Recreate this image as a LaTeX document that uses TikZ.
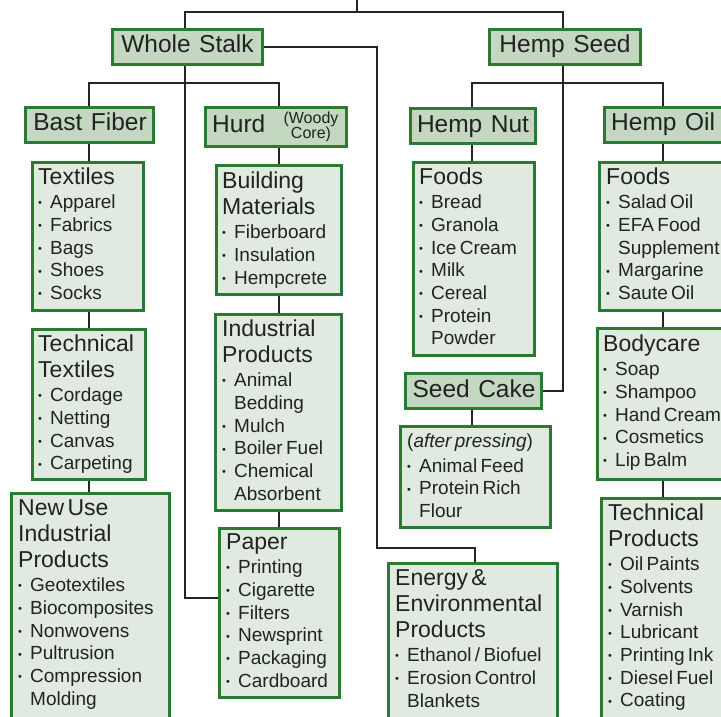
\documentclass[tikz,border=0pt]{standalone}
\usepackage{fontspec}
\setmainfont[WordSpace=1.25]{Liberation Sans}
\definecolor{linec}{HTML}{242424}
\definecolor{boxgreen}{HTML}{2A7A34}
\definecolor{titlefill}{HTML}{C4D7C1}
\definecolor{contfill}{HTML}{E1EAE0}
\definecolor{txtc}{HTML}{222222}
\newcommand\tfont{\fontsize{24.5}{28}\selectfont}
\newcommand\hfont{\fontsize{23}{26}\selectfont}
\newcommand\ifont{\fontsize{19}{22.7}\selectfont}
\newcommand\bul{\raisebox{1.8pt}{\fontsize{11}{11}\selectfont •}}
\newcommand\hdr[1]{{\hfont\noindent\rule{0pt}{20pt}#1\par}\vskip 1.8pt\relax}
\newcommand\bitem[1]{\hangindent 12pt\relax\hangafter 1\relax\noindent\hbox to 12pt{\bul\hfil}#1\par}
\newcommand\mkbox[6]{\node[#1, minimum width={#5-#3-2.6}, minimum height={#6-#4-2.6}] (#2) at ({(#3+#5)/2},{(#4+#6)/2}) {};}
\newcommand\ctxt[4]{\node[ctext] (#1) at (#2,{#3-20}) {\ifont\parindent 0pt\relax\parskip 0pt\relax #4};}
\tikzset{
  conn/.style={draw=linec, line width=2.6pt},
  tbox/.style={draw=boxgreen, fill=titlefill, line width=2.6pt, inner sep=0pt, outer sep=0pt},
  cbox/.style={draw=boxgreen, fill=contfill, line width=2.6pt, inner sep=0pt, outer sep=0pt},
  ttext/.style={anchor=base, inner sep=0pt, text=txtc, font=\tfont},
  ctext/.style={anchor=north west, inner sep=0pt, text=txtc, text width=260pt},
}
\begin{document}
\begin{tikzpicture}[x=1pt,y=-1pt]
\clip (0,0) rectangle (721,717);
\fill[white] (0,0) rectangle (721,717);
% column coordinates
\coordinate (c1) at (89,0);
\coordinate (c2) at (279,0);
\coordinate (c3) at (472,0);
\coordinate (c4) at (663,0);
\coordinate (topc) at (357,-5);
\coordinate (topj) at (357,12);
\coordinate (L) at (185,12);
\coordinate (R) at (563,12);
\coordinate (wj) at (185,83);
\coordinate (hj) at (563,83);
\coordinate (pj) at (185,598);
\coordinate (e1) at (377,47);
\coordinate (e2) at (377,548);
\coordinate (e3) at (475,548);
% box outlines used for anchors (invisible)
\begin{scope}[tbox/.append style={draw=none,fill=none}, cbox/.append style={draw=none,fill=none}]
\mkbox{tbox}{ws}{111}{28}{264}{66}
\mkbox{tbox}{hs}{488}{28}{642}{66}
\mkbox{tbox}{bf}{24}{106}{155}{144}
\mkbox{tbox}{hd}{204}{106}{348}{148}
\mkbox{tbox}{hn}{409}{107}{537}{145}
\mkbox{tbox}{ho}{603}{106}{745}{144}
\mkbox{tbox}{sc}{404}{372}{543}{410}
\mkbox{cbox}{tx}{31}{161}{145}{312}
\mkbox{cbox}{tt}{31}{328}{147}{481}
\mkbox{cbox}{nu}{10}{492}{171}{745}
\mkbox{cbox}{bm}{215}{164}{343}{296}
\mkbox{cbox}{ip}{214}{313}{343}{512}
\mkbox{cbox}{pp}{218}{527}{341}{699}
\mkbox{cbox}{nf}{412}{161}{536}{357}
\mkbox{cbox}{ap}{399}{425}{552}{529}
\mkbox{cbox}{en}{387}{562}{559}{745}
\mkbox{cbox}{of}{598}{161}{745}{312}
\mkbox{cbox}{bc}{596}{327}{745}{481}
\mkbox{cbox}{tp}{600}{497}{745}{745}
\end{scope}
% connectors
\path[conn] (topc) -- (topj);
\path[conn] (L |- ws.north) -- (L) -- (R) -- (R |- hs.north);
\path[conn] (c1 |- bf.north) |- (wj) -| (c2 |- hd.north);
\path[conn] (L |- ws.south) -- (pj) -- (pj -| pp.west);
\path[conn] (ws.east) -- (e1) -- (e2) -- (e3) -- (e3 |- en.north);
\path[conn] (c3 |- hn.north) |- (hj) -| (c4 |- ho.north);
\path[conn] (R |- hs.south) -- (R |- sc.east) -- (sc.east);
\path[conn] (c1 |- bf.south) -- (c1 |- tx.north);
\path[conn] (c1 |- tx.south) -- (c1 |- tt.north);
\path[conn] (c1 |- tt.south) -- (c1 |- nu.north);
\path[conn] (c2 |- hd.south) -- (c2 |- bm.north);
\path[conn] (c2 |- bm.south) -- (c2 |- ip.north);
\path[conn] (c2 |- ip.south) -- (c2 |- pp.north);
\path[conn] (c3 |- hn.south) -- (c3 |- nf.north);
\path[conn] (c3 |- sc.south) -- (c3 |- ap.north);
\path[conn] (c4 |- ho.south) -- (c4 |- of.north);
\path[conn] (c4 |- of.south) -- (c4 |- bc.north);
\path[conn] (c4 |- bc.south) -- (c4 |- tp.north);
% visible boxes on top of connectors
\mkbox{tbox}{ws}{111}{28}{264}{66}
\mkbox{tbox}{hs}{488}{28}{642}{66}
\mkbox{tbox}{bf}{24}{106}{155}{144}
\mkbox{tbox}{hd}{204}{106}{348}{148}
\mkbox{tbox}{hn}{409}{107}{537}{145}
\mkbox{tbox}{ho}{603}{106}{745}{144}
\mkbox{tbox}{sc}{404}{372}{543}{410}
\mkbox{cbox}{tx}{31}{161}{145}{312}
\mkbox{cbox}{tt}{31}{328}{147}{481}
\mkbox{cbox}{nu}{10}{492}{171}{745}
\mkbox{cbox}{bm}{215}{164}{343}{296}
\mkbox{cbox}{ip}{214}{313}{343}{512}
\mkbox{cbox}{pp}{218}{527}{341}{699}
\mkbox{cbox}{nf}{412}{161}{536}{357}
\mkbox{cbox}{ap}{399}{425}{552}{529}
\mkbox{cbox}{en}{387}{562}{559}{745}
\mkbox{cbox}{of}{598}{161}{745}{312}
\mkbox{cbox}{bc}{596}{327}{745}{481}
\mkbox{cbox}{tp}{600}{497}{745}{745}
% title texts
\node[ttext] (wst) at (187.5,53) {Whole Stalk};
\node[ttext] (hst) at (565,53) {Hemp Seed};
\node[ttext] (bft) at (90,131) {Bast Fiber};
\node[ttext, anchor=base west] (hdt) at (212,132) {Hurd};
\node[ttext, font=\fontsize{16}{16}\selectfont] (hdc1) at (311,124) {(Woody};
\node[ttext, font=\fontsize{16}{16}\selectfont] (hdc2) at (311,138.5) {Core)};
\node[ttext] (hnt) at (473,132) {Hemp Nut};
\node[ttext, anchor=base west] (hot) at (611,131) {Hemp Oil};
\node[ttext] (sct) at (474,397) {Seed Cake};
% content texts
\ctxt{txt}{38}{184}{\hdr{Textiles}\bitem{Apparel}\bitem{Fabrics}\bitem{Bags}\bitem{Shoes}\bitem{Socks}}
\ctxt{ttt}{38}{351}{\hdr{Technical\newline Textiles}\bitem{Cordage}\bitem{Netting}\bitem{Canvas}\bitem{Carpeting}}
\ctxt{nut}{18}{515}{\hdr{New Use\newline Industrial\newline Products}\bitem{Geotextiles}\bitem{Biocomposites}\bitem{Nonwovens}\bitem{Pultrusion}\bitem{Compression\newline Molding}}
\ctxt{bmt}{222}{188}{\hdr{Building\newline Materials}\bitem{Fiberboard}\bitem{Insulation}\bitem{Hempcrete}}
\ctxt{ipt}{222}{336}{\hdr{Industrial\newline Products}\bitem{Animal\newline Bedding}\bitem{Mulch}\bitem{Boiler Fuel}\bitem{Chemical\newline Absorbent}}
\ctxt{ppt}{226}{549}{\hdr{Paper}\bitem{Printing}\bitem{Cigarette}\bitem{Filters}\bitem{Newsprint}\bitem{Packaging}\bitem{Cardboard}}
\ctxt{nft}{419}{184}{\hdr{Foods}\bitem{Bread}\bitem{Granola}\bitem{Ice Cream}\bitem{Milk}\bitem{Cereal}\bitem{Protein\newline Powder}}
\ctxt{apt}{407}{447}{{\noindent\rule{0pt}{20pt}(\textit{after pressing})\par}\vskip 2.3pt\relax\bitem{Animal Feed}\bitem{Protein Rich\newline Flour}}
\ctxt{ent}{395}{585}{\hdr{Energy \&\newline Environmental\newline Products}\bitem{Ethanol / Biofuel}\bitem{Erosion Control\newline Blankets}}
\ctxt{oft}{606}{184}{\hdr{Foods}\bitem{Salad Oil}\bitem{EFA Food\newline Supplement}\bitem{Margarine}\bitem{Saute Oil}}
\ctxt{bct}{603}{351}{\hdr{Bodycare}\bitem{Soap}\bitem{Shampoo}\bitem{Hand Cream}\bitem{Cosmetics}\bitem{Lip Balm}}
\ctxt{tpt}{608}{520}{\hdr{Technical\newline Products}\bitem{Oil Paints}\bitem{Solvents}\bitem{Varnish}\bitem{Lubricant}\bitem{Printing Ink}\bitem{Diesel Fuel}\bitem{Coating}}
\end{tikzpicture}
\end{document}
